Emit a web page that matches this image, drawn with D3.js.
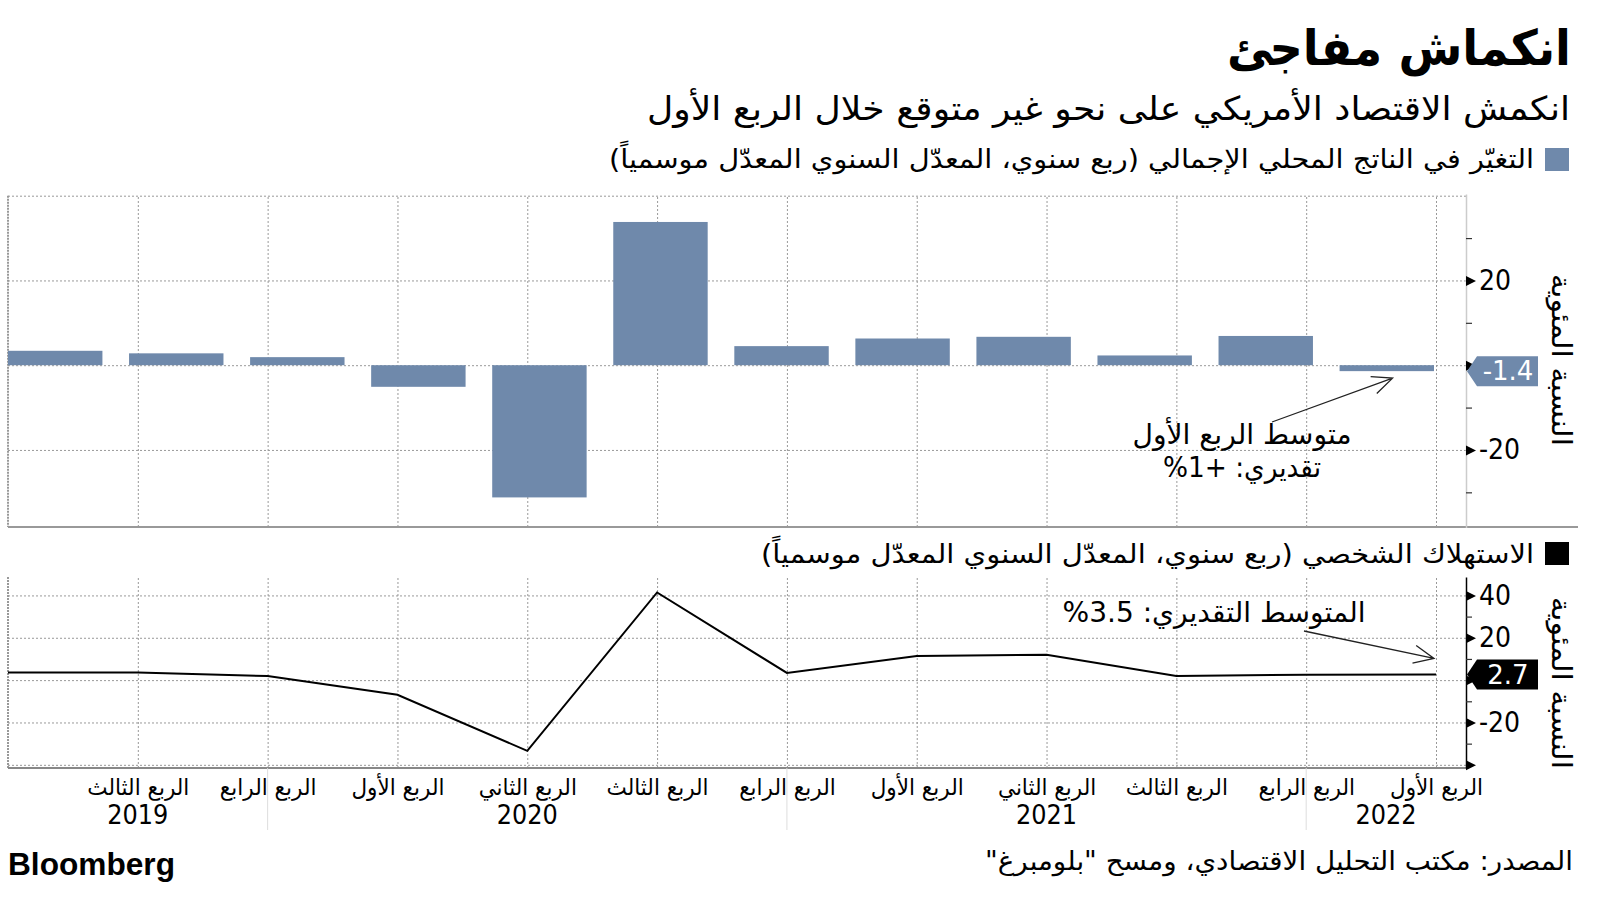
<!DOCTYPE html>
<html><head><meta charset="utf-8">
<script src="https://cdn.jsdelivr.net/npm/d3@7"></script>
<style>
body{margin:0;background:#fff}
svg{display:block}
text{font-family:"DejaVu Sans",sans-serif;fill:#000}
</style>
</head><body>
<script>
// ---------------- data ----------------
const title = "انكماش مفاجئ";
const subtitle = "انكمش الاقتصاد الأمريكي على نحو غير متوقع خلال الربع الأول";
const gdpLegend = "التغيّر في الناتج المحلي الإجمالي (ربع سنوي، المعدّل السنوي المعدّل موسمياً)";
const pceLegend = "الاستهلاك الشخصي (ربع سنوي، المعدّل السنوي المعدّل موسمياً)";
const axisTitle = "النسبة المئوية";
const source = "المصدر: مكتب التحليل الاقتصادي، ومسح \"بلومبرغ\"";
const brand = "Bloomberg";
const quarters = ["الربع الثاني","الربع الثالث","الربع الرابع","الربع الأول","الربع الثاني","الربع الثالث","الربع الرابع","الربع الأول","الربع الثاني","الربع الثالث","الربع الرابع","الربع الأول"];
const quarterYears = ["2019","2019","2019","2020","2020","2020","2020","2021","2021","2021","2021","2022"];
const years = ["2019","2020","2021","2022"];
const gdp = [3.4, 2.8, 1.9, -5.1, -31.2, 33.8, 4.5, 6.3, 6.7, 2.3, 6.9, -1.4];
const pce = [3.6, 3.6, 1.9, -6.9, -33.4, 41.4, 3.4, 11.4, 12.0, 2.0, 2.5, 2.7];
const gdpGrid = [40, 20, 0, -20];
const gdpMajorTicks = [20, 0, -20];
const gdpTickLabels = ["20", "", "-20"];
const gdpMinorTicks = [30, 10, -10, -30];
const pceGrid = [40, 20, 0, -20, -40];
const pceMajorTicks = [40, 20, 0, -20, -40];
const pceTickLabels = ["40", "20", "", "-20", ""];
const pceMinorTicks = [30, 10, -10, -30];
const gdpNote = ["متوسط الربع الأول", "تقديري: +1%"];
const pceNote = "المتوسط التقديري: 3.5%";

// ---------------- layout ----------------
const W = 1600, H = 900;
const xL = 8, xR = 1466;          // plot left / right-axis x
const BLUE = "#6f89ab";
const svg = d3.select("body").append("svg").attr("width", W).attr("height", H);

const xPoint = d3.scalePoint().domain(d3.range(quarters.length)).range([xL, 1436]);
const xBand = d3.scaleBand().domain(d3.range(quarters.length)).range([xL, 1434]).paddingInner(0.22).paddingOuter(0);
const yTop = d3.scaleLinear().domain([-38.3, 40.4]).range([527.5, 194]);
const yBot = d3.scaleLinear().domain([-41.5, 48.7]).range([768, 577]);

function rtl(sel){ return sel.attr("direction","rtl").attr("unicode-bidi","embed"); }
function fit(sel, w){ return sel.attr("textLength", w).attr("lengthAdjust","spacingAndGlyphs"); }

// ---------------- titles ----------------
fit(rtl(svg.append("text").attr("x", 1571 - 344/2).attr("y", 65).attr("text-anchor","middle")
  .style("font-size","49px").style("font-weight","bold").text(title)), 344);
fit(rtl(svg.append("text").attr("x", 1570 - 923/2).attr("y", 120).attr("text-anchor","middle")
  .style("font-size","33px").text(subtitle)), 923);

// legends
svg.append("rect").attr("x",1545).attr("y",148).attr("width",24).attr("height",23).attr("fill",BLUE);
fit(rtl(svg.append("text").attr("x", 1534 - 925/2).attr("y", 168).attr("text-anchor","middle")
  .style("font-size","26px").text(gdpLegend)), 925);
svg.append("rect").attr("x",1545).attr("y",542).attr("width",24).attr("height",23).attr("fill","#000");
fit(rtl(svg.append("text").attr("x", 1534 - 773/2).attr("y", 563).attr("text-anchor","middle")
  .style("font-size","26px").text(pceLegend)), 773);

// ---------------- helpers ----------------
function gridAndAxes(g, y, gridVals, yTopPx, yBotPx){
  g.append("g").attr("transform",`translate(${xL},0)`)
    .call(d3.axisLeft(y).tickValues(gridVals).tickSize(-(xR - xL)).tickFormat(""))
    .call(a => a.select(".domain").remove())
    .call(a => a.selectAll("line").attr("stroke","#999").attr("stroke-width",1).attr("stroke-dasharray","2,2"));
  g.append("g").attr("transform",`translate(0,${yBotPx})`)
    .call(d3.axisBottom(xPoint).tickValues(d3.range(1, quarters.length)).tickSize(-(yBotPx - yTopPx)).tickFormat(""))
    .call(a => a.select(".domain").remove())
    .call(a => a.selectAll("line").attr("stroke","#999").attr("stroke-width",1).attr("stroke-dasharray","2,2"));
  g.append("line").attr("x1",xL).attr("x2",xL).attr("y1",yTopPx).attr("y2",yBotPx)
    .attr("stroke","#999").attr("stroke-width",2).attr("stroke-dasharray","2,1");
}

function rightAxis(g, y, major, labels, minor, lineColor){
  const ax = g.append("g").attr("transform",`translate(${xR},0)`)
    .call(d3.axisRight(y).tickValues(major).tickSize(0).tickSizeOuter(0).tickPadding(13)
      .tickFormat((d,i) => labels[i]));
  ax.select(".domain").attr("stroke", lineColor).attr("stroke-width", 1.5);
  ax.selectAll(".tick text").style("font-size","28px").style("font-family","'DejaVu Sans Condensed','DejaVu Sans'").attr("fill","#000");
  ax.selectAll(".tick").append("path").attr("d","M0,-5L10,0L0,5Z").attr("fill","#000");
  const mn = g.append("g").attr("transform",`translate(${xR},0)`)
    .call(d3.axisRight(y).tickValues(minor).tickSize(6).tickFormat(""));
  mn.select(".domain").remove();
  mn.selectAll("line").attr("stroke","#333").attr("stroke-width",1.2);
}

function valueBox(g, yv, txt, fill){
  g.append("path")
    .attr("d", `M${xR+1},${yv}L${xR+11},${yv-15}L1538,${yv-15}L1538,${yv+15}L${xR+11},${yv+15}Z`)
    .attr("fill", fill);
  g.append("text").attr("x", 1508).attr("y", yv).attr("dy","0.36em").attr("text-anchor","middle")
    .style("font-size","26px").attr("fill","#fff").style("fill","#fff").text(txt);
}

function arrow(g, x1, y1, x2, y2){
  const a = Math.atan2(y2 - y1, x2 - x1), L = 22, s = 0.42;
  g.append("path")
    .attr("d", `M${x1},${y1}L${x2},${y2}M${x2 - L*Math.cos(a - s)},${y2 - L*Math.sin(a - s)}L${x2},${y2}L${x2 - L*Math.cos(a + s)},${y2 - L*Math.sin(a + s)}`)
    .attr("fill","none").attr("stroke","#222").attr("stroke-width",1.3);
}

function yAxisTitle(g, cy){
  fit(rtl(g.append("text").attr("transform",`translate(1552,${cy}) rotate(90)`).attr("text-anchor","middle")
    .style("font-size","27px").text(axisTitle)), 172);
}

// ---------------- top chart (GDP bars) ----------------
const gT = svg.append("g");
gridAndAxes(gT, yTop, gdpGrid, yTop(40), 527);
gT.selectAll("rect.bar").data(gdp).join("rect").attr("class","bar")
  .attr("x", (d,i) => xBand(i)).attr("width", xBand.bandwidth())
  .attr("y", d => yTop(Math.max(0,d))).attr("height", d => Math.abs(yTop(d) - yTop(0)))
  .attr("fill", BLUE);
gT.append("line").attr("x1",xL).attr("x2",1578).attr("y1",527).attr("y2",527).attr("stroke","#999").attr("stroke-width",2);
rightAxis(gT, yTop, gdpMajorTicks, gdpTickLabels, gdpMinorTicks, "#ccc");
valueBox(gT, yTop(gdp[gdp.length-1]), String(gdp[gdp.length-1]), BLUE);
yAxisTitle(gT, 360);
const nI = gdp.length - 1;
arrow(gT, 1272, 422, xBand(nI) + 53, yTop(gdp[nI]) + 7);
fit(rtl(gT.append("text").attr("x",1242).attr("y",444).attr("text-anchor","middle").style("font-size","28px").text(gdpNote[0])), 219);
fit(rtl(gT.append("text").attr("x",1242).attr("y",477).attr("text-anchor","middle").style("font-size","28px").text(gdpNote[1])), 158);

// ---------------- bottom chart (consumption line) ----------------
const gB = svg.append("g");
gridAndAxes(gB, yBot, pceGrid, 577, 768);
gB.append("line").attr("x1",xL).attr("x2",xR).attr("y1",768).attr("y2",768).attr("stroke","#888").attr("stroke-width",2);
gB.append("path").datum(pce)
  .attr("d", d3.line().x((d,i) => xPoint(i)).y(d => yBot(d)))
  .attr("fill","none").attr("stroke","#000").attr("stroke-width",2);
rightAxis(gB, yBot, pceMajorTicks, pceTickLabels, pceMinorTicks, "#000");
valueBox(gB, yBot(pce[pce.length-1]), String(pce[pce.length-1]), "#000");
yAxisTitle(gB, 683);
arrow(gB, 1304, 631, xPoint(pce.length-1) - 2, yBot(pce[pce.length-1]) - 16);
fit(rtl(gB.append("text").attr("x",1214).attr("y",622).attr("text-anchor","middle").style("font-size","28px").text(pceNote)), 303);

// year separators (last quarter of each year)
const sepIdx = d3.range(quarters.length - 1).filter(i => quarterYears[i] !== quarterYears[i+1]);
gB.selectAll("line.sep").data(sepIdx).join("line").attr("class","sep")
  .attr("x1", i => xPoint(i)).attr("x2", i => xPoint(i)).attr("y1", 768).attr("y2", 830)
  .attr("stroke","#ddd").attr("stroke-width",1);

// quarter labels
const qAx = gB.append("g").attr("transform","translate(0,768)")
  .call(d3.axisBottom(xPoint).tickValues(d3.range(1, quarters.length)).tickSize(0).tickPadding(0).tickFormat(i => quarters[i]));
qAx.select(".domain").remove();
qAx.selectAll(".tick text").attr("y", 27).attr("dy", 0).attr("direction","rtl")
  .style("font-size","23px").style("font-family","'DejaVu Sans'").attr("fill","#000");
let refLen = null;
qAx.selectAll(".tick text").each(function(){ if (refLen === null && this.textContent === "الربع الثالث") refLen = this.getComputedTextLength(); });
const k = refLen ? 102 / refLen : 1;
qAx.selectAll(".tick text").each(function(){ const l = this.getComputedTextLength(); d3.select(this).attr("textLength", l*k).attr("lengthAdjust","spacingAndGlyphs"); });

// year labels centered in each year's span
const yearPos = years.map((yr, j) => {
  const idx = d3.range(quarters.length).filter(i => quarterYears[i] === yr);
  const start = j === 0 ? xPoint(idx[0]) : xPoint(idx[0] - 1);
  const end = j === years.length - 1 ? xR : xPoint(idx[idx.length - 1]);
  return (start + end) / 2;
});
gB.selectAll("text.year").data(years).join("text").attr("class","year")
  .attr("x", (d,j) => yearPos[j]).attr("y", 824).attr("text-anchor","middle")
  .style("font-size","27px").style("font-family","'DejaVu Sans Condensed','DejaVu Sans'")
  .attr("textLength", 61).attr("lengthAdjust","spacingAndGlyphs").text(d => d);

// ---------------- footer ----------------
svg.append("text").attr("x", 8).attr("y", 875).style("font-family","'Liberation Sans',Arial,sans-serif")
  .style("font-size","31px").style("font-weight","bold").attr("textLength",167).attr("lengthAdjust","spacingAndGlyphs").text(brand);
fit(rtl(svg.append("text").attr("x", 1573 - 588/2).attr("y", 870).attr("text-anchor","middle")
  .style("font-size","26px").text(source)), 588);
</script>
</body></html>
